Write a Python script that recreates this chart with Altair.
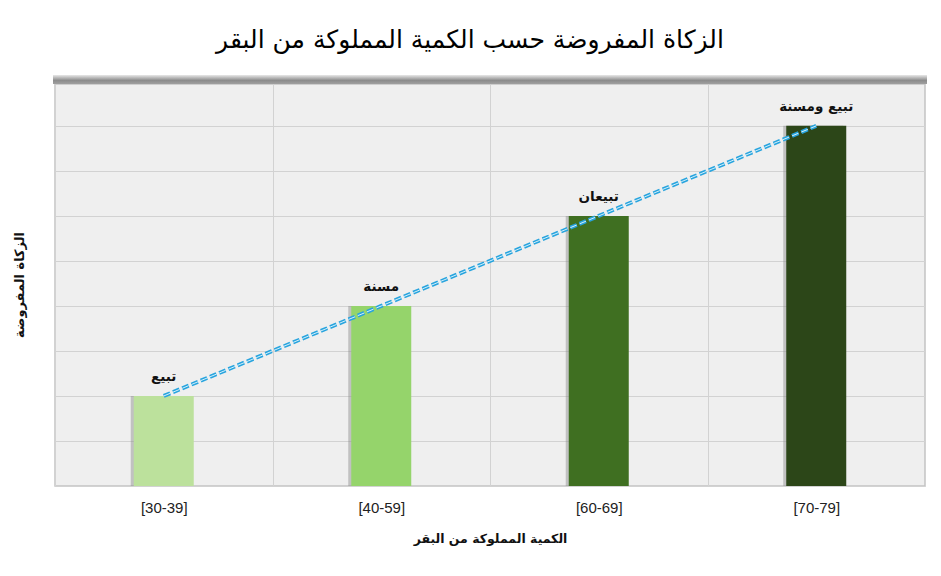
import altair as alt
import pandas as pd

categories = ["[30-39]", "[40-59]", "[60-69]", "[70-79]"]
values = [2, 4, 6, 8]
bar_labels = ["تبيع", "مسنة", "تبيعان", "تبيع ومسنة"]
bar_colors = ["#bce19c", "#95d46b", "#3f6f21", "#2c4618"]

title_text = "الزكاة المفروضة حسب الكمية المملوكة من البقر"
x_title = "الكمية المملوكة من البقر"
y_title = "الزكاة المفروضة"

df = pd.DataFrame({"cat": categories, "val": values, "lab": bar_labels})

W, H = 870, 402
ARFONT = "DejaVu Sans"

x_enc = alt.X(
    "cat:N",
    sort=categories,
    scale=alt.Scale(paddingInner=0, paddingOuter=0),
    axis=alt.Axis(
        title=x_title,
        labelAngle=0,
        ticks=False,
        domain=False,
        grid=True,
        tickBand="extent",
        gridColor="#d2d2d2",
        gridWidth=1,
        labelPadding=14,
        labelFont="Liberation Sans",
        labelFontSize=15,
        labelColor="#222222",
        titleFont=ARFONT,
        titleFontSize=12.5,
        titleFontWeight="bold",
        titleColor="#111111",
        titlePadding=17,
    ),
)
y_enc = alt.Y(
    "val:Q",
    scale=alt.Scale(domain=[0, 8.93], nice=False),
    axis=alt.Axis(
        title=None,
        labels=False,
        ticks=False,
        domain=False,
        grid=True,
        values=[1, 2, 3, 4, 5, 6, 7, 8],
        gridColor="#d2d2d2",
        gridWidth=1,
    ),
)

base = alt.Chart(df)

shadow = base.mark_bar(size=60, xOffset=-3, color="#8a8a8a", opacity=0.45).encode(
    x=x_enc, y=y_enc
)

bars = base.mark_bar(size=60).encode(
    x=x_enc,
    y=y_enc,
    color=alt.Color("cat:N", sort=categories,
                    scale=alt.Scale(domain=categories, range=bar_colors), legend=None),
)

trend_outer = base.mark_line(strokeDash=[7, 3], strokeWidth=4, color="#28a4de").encode(
    x=alt.X("cat:N", sort=categories), y="val:Q"
)
trend_inner = base.mark_line(strokeDash=[7, 3], strokeWidth=1, color="#d4f0fb").encode(
    x=alt.X("cat:N", sort=categories), y="val:Q"
)

labels = base.mark_text(
    font=ARFONT, fontSize=13.5, fontWeight="bold", color="#111111",
    baseline="middle", dy=-19
).encode(x=alt.X("cat:N", sort=categories), y="val:Q", text="lab:N")

one = alt.Data(values=[{"a": 1}])

top_shadow = alt.Chart(one).mark_rect(
    fill=alt.Gradient(
        gradient="linear",
        stops=[alt.GradientStop(color="#e8e8e8", offset=0),
               alt.GradientStop(color="#8c8c8c", offset=0.6),
               alt.GradientStop(color="#a0a0a0", offset=1)],
        x1=0, x2=0, y1=0, y2=1,
    )
).encode(x=alt.value(-2), x2=alt.value(W + 2), y=alt.value(-9), y2=alt.value(0))

title = alt.Chart(one).mark_text(
    text=title_text, font=ARFONT, fontSize=25, color="#000000",
    align="center", baseline="middle"
).encode(x=alt.value(415), y=alt.value(-44))

ytitle = alt.Chart(one).mark_text(
    text=y_title, font=ARFONT, fontSize=13, fontWeight="bold", color="#111111",
    align="center", baseline="middle", angle=270
).encode(x=alt.value(-35), y=alt.value(201))

chart = alt.layer(
    shadow, bars, trend_outer, trend_inner, labels, top_shadow, title, ytitle
).properties(
    width=W,
    height=H,
    autosize=alt.AutoSizeParams(type="none"),
    padding={"left": 47, "top": 76, "right": 6, "bottom": 74},
    background="white",
).configure_view(
    fill="#efefef", stroke="#c4c4c4", strokeWidth=1.5
)

chart.save("out.html", embed_options={"renderer": "svg", "actions": False})
